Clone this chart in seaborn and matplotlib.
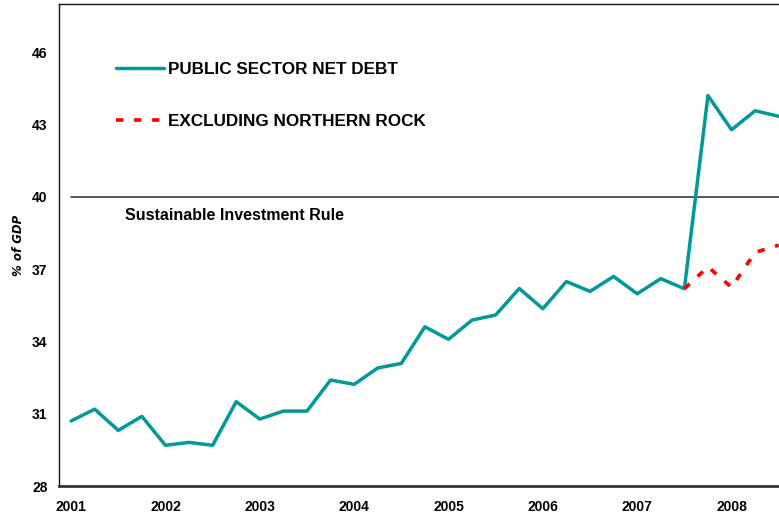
import matplotlib
matplotlib.use("Agg")
import matplotlib.pyplot as plt
import seaborn as sns
import pandas as pd
from matplotlib.lines import Line2D
from matplotlib.font_manager import FontProperties

# Quarterly periods, 2001 Q1 to 2008 Q3
years = [2001, 2002, 2003, 2004, 2005, 2006, 2007, 2008]
quarters = [f"{y}Q{q}" for y in years for q in range(1, 5)][:31]

# Public sector net debt, % of GDP
psnd = [30.70, 31.19, 30.31, 30.89, 29.69, 29.81, 29.69, 31.50,
        30.78, 31.11, 31.11, 32.40, 32.22, 32.90, 33.09, 34.61,
        34.09, 34.89, 35.10, 36.20, 35.36, 36.49, 36.08, 36.70,
        35.98, 36.61, 36.19, 44.21, 42.79, 43.58, 43.35]

# Excluding Northern Rock, 2007 Q3 onwards
excl_quarters = ["2007Q3", "2007Q4", "2008Q1", "2008Q2", "2008Q3"]
excl_nr = [36.19, 37.10, 36.25, 37.70, 38.00]

# Sustainable investment rule ceiling
rule_level = 40.0

y_ticks = [28, 31, 34, 37, 40, 43, 46]
year_labels = [str(y) for y in years]

pos = {q: i for i, q in enumerate(quarters)}
df_main = pd.DataFrame({"x": [pos[q] for q in quarters], "value": psnd})
df_excl = pd.DataFrame({"x": [pos[q] for q in excl_quarters], "value": excl_nr})
df_rule = pd.DataFrame({"x": [pos[q] for q in quarters],
                        "value": [rule_level] * len(quarters)})

sns.set_style("white")
plt.rcParams["font.family"] = ["Liberation Sans", "DejaVu Sans"]
for key in ["text.color", "axes.labelcolor", "xtick.color", "ytick.color"]:
    plt.rcParams[key] = "black"

W, H = 779, 517
fig = plt.figure(figsize=(W / 100, H / 100), dpi=100)
left, right, bottom, top = 59.3, 790.5, 486.0, 4.3
ax = fig.add_axes([left / W, 1 - bottom / H, (right - left) / W, (bottom - top) / H])

teal = "#009999"
red = "#ff0000"

sns.lineplot(data=df_rule, x="x", y="value", ax=ax, color="#3a3a3a",
             linewidth=1.2, legend=False)
sns.lineplot(data=df_main, x="x", y="value", ax=ax, color=teal,
             linewidth=2.5, legend=False)
sns.lineplot(data=df_excl, x="x", y="value", ax=ax, color=red,
             linewidth=2.6, dashes=False, legend=False)
ax.lines[-1].set_dashes([2.0, 3.0])
ax.lines[-1].set_dash_capstyle("butt")

ax.set_xlim(-0.5, len(quarters) - 0.5)
ax.set_ylim(28, 48)
ax.set_yticks(y_ticks)
ax.set_yticklabels([str(t) for t in y_ticks], fontsize=10, fontweight="bold")
ax.set_xticks([pos[f"{y}Q1"] for y in years])
ax.set_xticklabels(year_labels, fontsize=10, fontweight="bold")
ax.tick_params(axis="x", length=0, pad=10)
ax.tick_params(axis="y", length=4.5, width=1, color="#222222", pad=4, direction="out")
ax.set_xlabel("")
ylabel_font = FontProperties(family="DejaVu Sans", weight="bold",
                             style="oblique", size=8.5)
ax.set_ylabel("% of GDP", fontproperties=ylabel_font, labelpad=5)

for side in ["left", "top"]:
    ax.spines[side].set_visible(True)
    ax.spines[side].set_color("#111111")
    ax.spines[side].set_linewidth(1.0)
ax.spines["bottom"].set_color("#333333")
ax.spines["bottom"].set_linewidth(2.0)
ax.spines["right"].set_visible(False)

ax.text(125, H - 215, "Sustainable Investment Rule", transform=None,
        fontsize=11.5, fontweight="bold", va="center", ha="left")

handles = [Line2D([0], [0], color=teal, linewidth=2.5),
           Line2D([0], [0], color=red, linewidth=2.6, dashes=[2.0, 3.0],
                  dash_capstyle="butt")]
leg = ax.legend(handles, ["PUBLIC SECTOR NET DEBT", "EXCLUDING NORTHERN ROCK"],
                loc="upper left", bbox_to_anchor=(116 / W, 1 - 61.5 / H),
                bbox_transform=fig.transFigure, frameon=False,
                prop={"weight": "bold", "size": 12.3}, handlelength=2.8,
                handletextpad=0.25, labelspacing=2.18, borderpad=0, borderaxespad=0)

fig.savefig("out.png", dpi=100)
